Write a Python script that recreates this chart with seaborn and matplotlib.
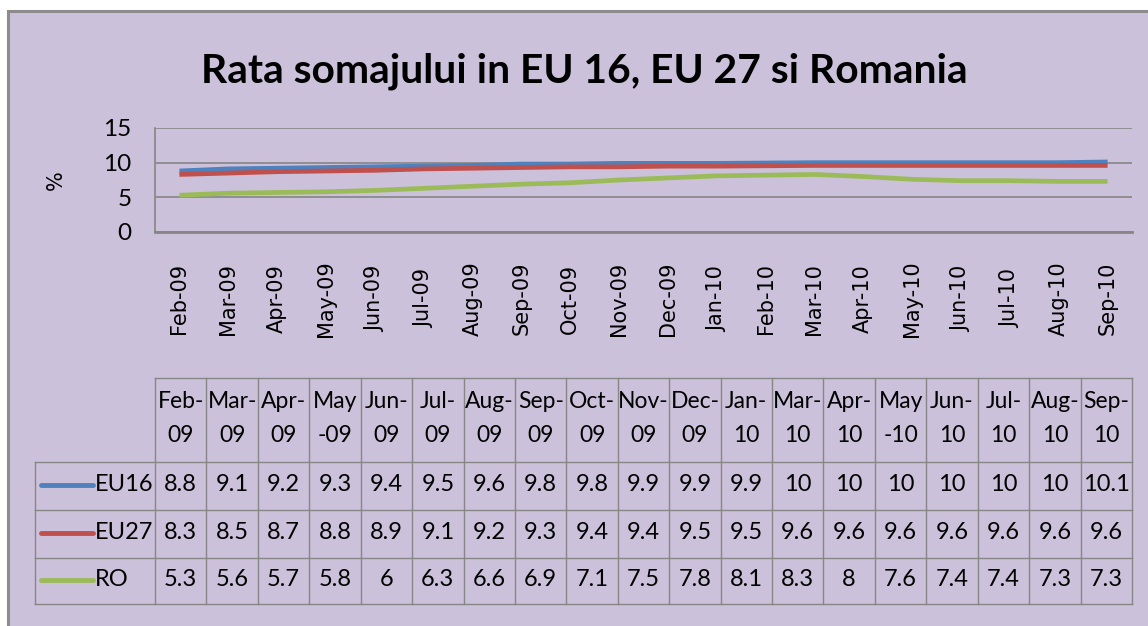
import matplotlib
matplotlib.use("Agg")
import matplotlib.pyplot as plt
import seaborn as sns
import pandas as pd
from matplotlib.patches import Rectangle

# ---------------- data ----------------
title = "Rata somajului in EU 16, EU 27 si Romania"
y_label = "%"
axis_months = ["Feb-09", "Mar-09", "Apr-09", "May-09", "Jun-09", "Jul-09", "Aug-09",
               "Sep-09", "Oct-09", "Nov-09", "Dec-09", "Jan-10", "Feb-10", "Mar-10",
               "Apr-10", "May-10", "Jun-10", "Jul-10", "Aug-10", "Sep-10"]
data_months = ["Feb-09", "Mar-09", "Apr-09", "May-09", "Jun-09", "Jul-09", "Aug-09",
               "Sep-09", "Oct-09", "Nov-09", "Dec-09", "Jan-10", "Mar-10",
               "Apr-10", "May-10", "Jun-10", "Jul-10", "Aug-10", "Sep-10"]
table_headers = ["Feb-\n09", "Mar-\n09", "Apr-\n09", "May\n-09", "Jun-\n09", "Jul-\n09",
                 "Aug-\n09", "Sep-\n09", "Oct-\n09", "Nov-\n09", "Dec-\n09", "Jan-\n10",
                 "Mar-\n10", "Apr-\n10", "May\n-10", "Jun-\n10", "Jul-\n10", "Aug-\n10",
                 "Sep-\n10"]
series_names = ["EU16", "EU27", "RO"]
eu16 = [8.8, 9.1, 9.2, 9.3, 9.4, 9.5, 9.6, 9.8, 9.8, 9.9, 9.9, 9.9, 10, 10, 10, 10, 10, 10, 10.1]
eu27 = [8.3, 8.5, 8.7, 8.8, 8.9, 9.1, 9.2, 9.3, 9.4, 9.4, 9.5, 9.5, 9.6, 9.6, 9.6, 9.6, 9.6, 9.6, 9.6]
ro = [5.3, 5.6, 5.7, 5.8, 6, 6.3, 6.6, 6.9, 7.1, 7.5, 7.8, 8.1, 8.3, 8, 7.6, 7.4, 7.4, 7.3, 7.3]
series_values = [eu16, eu27, ro]
y_ticks = [0, 5, 10, 15]

colors = ["#4F81BD", "#C0504D", "#9BBB59"]
BG = "#CCC1DA"
GRID = "#868686"
FONT = ["Lato", "DejaVu Sans"]

# month positions on the (monthly) date axis
start = pd.to_datetime(axis_months[0], format="%b-%y")
dts = pd.to_datetime(data_months, format="%b-%y")
pos = [(d.year - start.year) * 12 + d.month - start.month for d in dts]

rows = []
for name, vals in zip(series_names, series_values):
    for p, v in zip(pos, vals):
        rows.append({"pos": p, "value": v, "series": name})
df = pd.DataFrame(rows)

# ---------------- figure ----------------
W, H = 1148, 626
fig = plt.figure(figsize=(W / 100, H / 100), dpi=100)
fig.patch.set_facecolor("white")
renderer = fig.canvas.get_renderer()


def fit_size(s, target_w, **kw):
    t = fig.text(0, 0, s, fontsize=30, **kw)
    w = t.get_window_extent(renderer).width
    t.remove()
    return 30 * target_w / w


# background / table axes in pixel coordinates
bg = fig.add_axes([0, 0, 1, 1], zorder=0)
bg.set_xlim(0, W)
bg.set_ylim(H, 0)
bg.axis("off")
bg.add_patch(Rectangle((8, 11), 1300, 800, facecolor=BG, edgecolor="#8C8C8C", lw=2.2))

# title and y label
tsize = fit_size(title, 766, fontweight="bold", family=FONT)
fig.text(584 / W, 1 - 83 / H, title, ha="center", va="baseline", fontsize=tsize,
         fontweight="bold", family=FONT)
fig.text(56 / W, 1 - 180 / H, y_label, rotation=90, ha="center", va="center", fontsize=15,
         family="DejaVu Sans")

# plot axes
L, R, T, B = 155, 1132, 128, 232
ax = fig.add_axes([L / W, 1 - B / H, (R - L) / W, (B - T) / H], zorder=1)
ax.set_facecolor("none")
sns.lineplot(data=df, x="pos", y="value", hue="series", hue_order=series_names,
             palette=colors, lw=3.4, legend=False, ax=ax, solid_capstyle="butt")
ax.set_xlim(-0.5, len(axis_months) - 0.5)
ax.set_ylim(y_ticks[0], y_ticks[-1])
ax.set_yticks(y_ticks)
ax.set_yticklabels([str(t) for t in y_ticks], family=FONT, fontsize=17.5)
ax.set_xticks(range(len(axis_months)))
ax.set_xticklabels(axis_months, rotation=90, ha="center", va="center", fontsize=15,
                   family="DejaVu Sans")
ax.tick_params(axis="both", length=0)
ax.tick_params(axis="y", pad=17)
ax.tick_params(axis="x", pad=48)
ax.set_xlabel("")
ax.set_ylabel("")
ax.yaxis.grid(True, color=GRID, lw=1.2)
ax.xaxis.grid(False)
ax.set_axisbelow(True)
for s in ["top", "right"]:
    ax.spines[s].set_visible(False)
ax.spines["left"].set_color(GRID)
ax.spines["left"].set_linewidth(1.2)
ax.spines["bottom"].set_color(GRID)
ax.spines["bottom"].set_linewidth(2.0)

# ---------------- data table ----------------
ncol = len(table_headers)
colw = (R - L) / ncol
t_top, t_head, t_bot = 378, 462, 604
row_edges = [462, 510, 558, 604]
leg_left = 35
lc = dict(color=GRID, lw=1.0)

bg.plot([L, R], [t_top, t_top], **lc)
for y in row_edges:
    bg.plot([leg_left, R], [y, y], **lc)
bg.plot([leg_left, leg_left], [t_head, t_bot], **lc)
for k in range(ncol + 1):
    x = L + k * colw
    bg.plot([x, x], [t_top, t_bot], **lc)

for i, hdr in enumerate(table_headers):
    cx = L + (i + 0.5) * colw
    l1, l2 = hdr.split("\n")
    bg.text(cx, 402, l1, ha="center", va="center", fontsize=16.5, family=FONT)
    bg.text(cx, 435, l2, ha="center", va="center", fontsize=16.5, family=FONT)

for r, (name, vals, col) in enumerate(zip(series_names, series_values, colors)):
    cy = (row_edges[r] + row_edges[r + 1]) / 2 - 1.5
    bg.plot([41, 93], [cy, cy], color=col, lw=3.5, solid_capstyle="round")
    bg.text(95, cy, name, ha="left", va="center", fontsize=17, family=FONT)
    for i, v in enumerate(vals):
        cx = L + (i + 0.5) * colw
        bg.text(cx, cy, f"{v:g}", ha="center", va="center", fontsize=17, family=FONT)

fig.savefig("out.png", dpi=100, facecolor=fig.get_facecolor())
